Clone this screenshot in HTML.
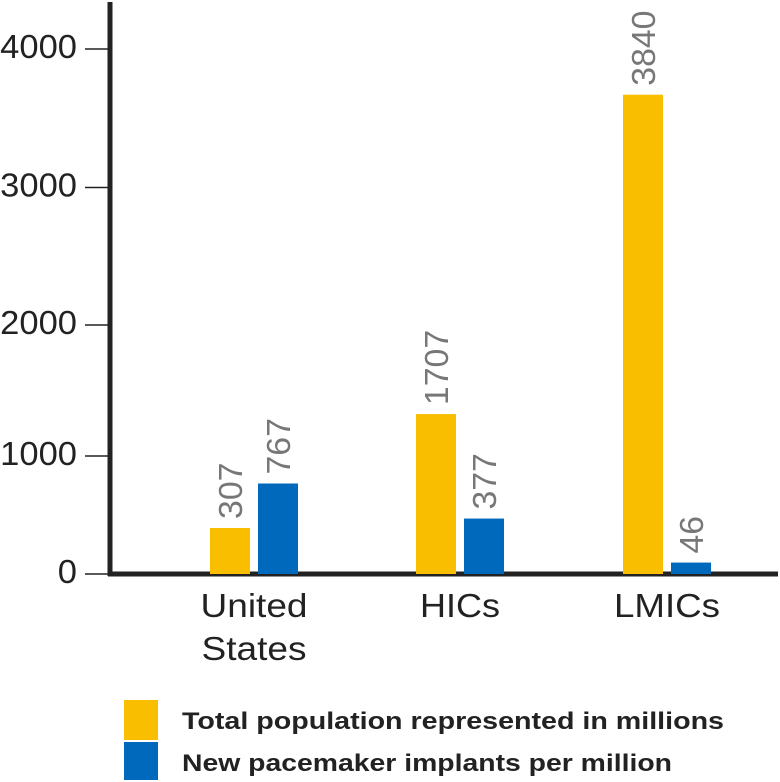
<!DOCTYPE html>
<html><head><meta charset="utf-8"><style>
html,body{margin:0;padding:0;background:#fff;}
svg{display:block;font-family:"Liberation Sans",Arial,sans-serif;}
</style></head><body>
<svg id="chart" width="780" height="782" viewBox="0 0 780 782" xmlns="http://www.w3.org/2000/svg">
<g id="axes"></g><g id="bars"></g><g id="labels"></g>
<g>
 <rect x="124" y="700" width="34" height="40" fill="#F9BE00"/>
 <rect x="124" y="742" width="34" height="38" fill="#0069BB"/>
 <text x="182" y="729" font-size="24" font-weight="bold" fill="#222" textLength="542" lengthAdjust="spacingAndGlyphs">Total population represented in millions</text>
 <text x="182" y="771" font-size="24" font-weight="bold" fill="#222" textLength="490" lengthAdjust="spacingAndGlyphs">New pacemaker implants per million</text>
</g>
</svg>
<script>
const categories = ["United States", "HICs", "LMICs"];
const populationValues = [390, 1320, 3670];
const implantValues = [767, 470, 97];
const populationLabels = ["307", "1707", "3840"];
const implantLabels = ["767", "377", "46"];
const tickValues = [0, 1000, 2000, 3000, 4000];
const tickLabels = ["0", "1000", "2000", "3000", "4000"];

const NS = "http://www.w3.org/2000/svg";
const tickPix = [574, 456, 325, 187.5, 49];
function yScale(v){
  for (let i = 0; i < tickValues.length - 1; i++) {
    if (v <= tickValues[i+1] || i === tickValues.length - 2) {
      const t = (v - tickValues[i]) / (tickValues[i+1] - tickValues[i]);
      return tickPix[i] + t * (tickPix[i+1] - tickPix[i]);
    }
  }
}
const groupCenters = [254, 460, 667];
function xScale(i){ return groupCenters[i]; }
function mk(tag, attrs, parent){
  const el = document.createElementNS(NS, tag);
  for (const k in attrs) el.setAttribute(k, attrs[k]);
  parent.appendChild(el); return el;
}
const axes = document.getElementById("axes");
const bars = document.getElementById("bars");
const labels = document.getElementById("labels");

let ax = mk("line", {x1:110, y1:2, x2:110, y2:576, stroke:"#222", "stroke-width":5}, axes);


let bx = mk("line", {x1:108, y1:574, x2:778, y2:574, stroke:"#222", "stroke-width":5}, axes);



tickValues.forEach((v, i) => {
  const y = yScale(v);
  const tl = mk("line", {x1:85, y1:y, x2:110, y2:y, stroke:"#222", "stroke-width":1.5}, axes);
  
  
  const lab = tickLabels[i];
  const tx = mk("text", {x:77, y:y+9, "text-anchor":"end", "font-size":33, fill:"#222", textLength: 19.2*lab.length, lengthAdjust:"spacingAndGlyphs"}, axes);
  
  
  tx.textContent = lab;
});

categories.forEach((c, i) => {
  const cx = xScale(i);
  const y0 = yScale(0);
  const series = [
    {v: populationValues[i], lab: populationLabels[i], x: cx - 44, color: "#F9BE00", name: "bar-population"},
    {v: implantValues[i], lab: implantLabels[i], x: cx + 4, color: "#0069BB", name: "bar-implants"}
  ];
  series.forEach(s => {
    const yt = yScale(s.v);
    const r = mk("rect", {x:s.x, y:yt, width:40, height:y0 - yt, fill:s.color}, bars);
    
    
    const lx = s.x + 20 + 12, ly = yt - 9;
    const t = mk("text", {x:lx, y:ly, "font-size":33, fill:"#777", textLength: 18.8*s.lab.length, lengthAdjust:"spacingAndGlyphs", transform:"rotate(-90 " + lx + " " + ly + ")"}, labels);
    
    
    t.textContent = s.lab;
  });
  const words = c === "United States" ? ["United", "States"] : [c];
  const widths = {"United":107, "States":105, "HICs":80, "LMICs":106};
  words.forEach((w, k) => {
    const t = mk("text", {x:cx, y:617 + k*43, "text-anchor":"middle", "font-size":33, fill:"#222", textLength: widths[w], lengthAdjust:"spacingAndGlyphs"}, labels);
    
    
    t.textContent = w;
  });
});
</script>
</body></html>
